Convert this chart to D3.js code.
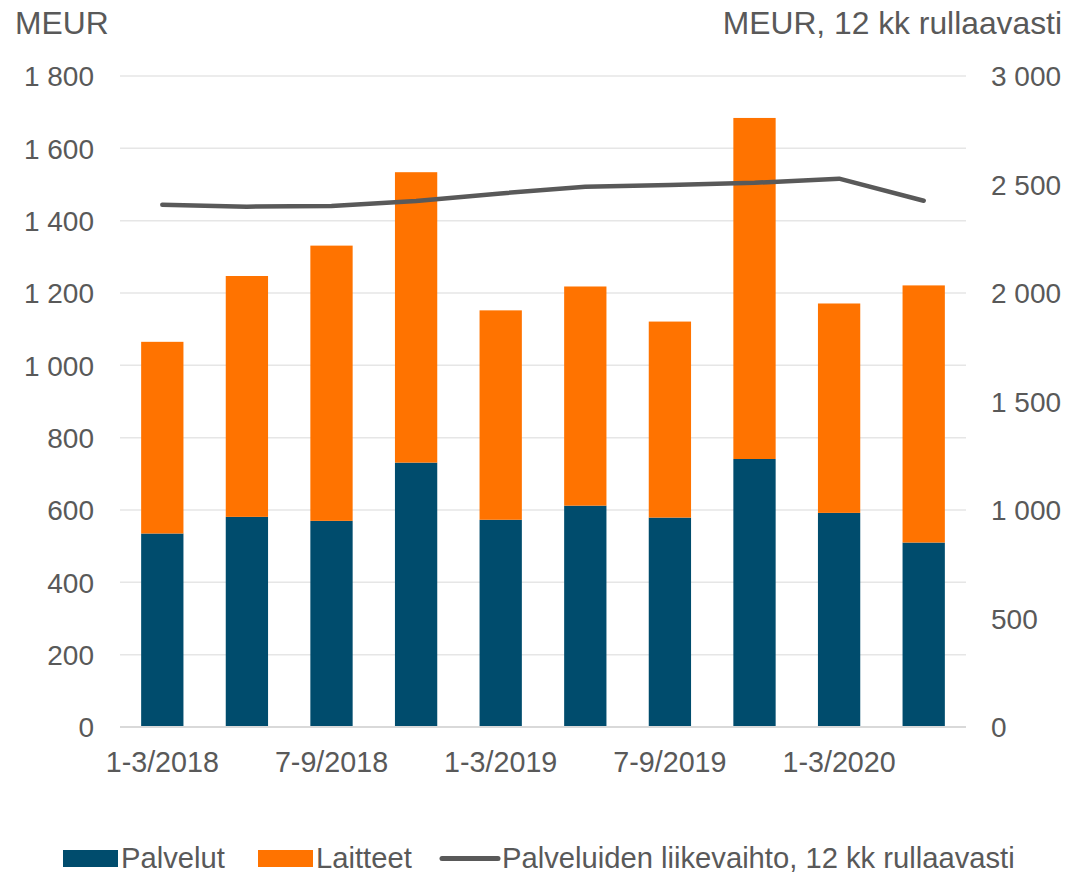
<!DOCTYPE html>
<html>
<head>
<meta charset="utf-8">
<script src="https://cdn.jsdelivr.net/npm/d3@7"></script>
<style>
  html, body { margin: 0; padding: 0; background: #fff; }
  svg text { font-family: "Liberation Sans", Arial, sans-serif; fill: #595959; }
</style>
</head>
<body>
<svg id="chart" width="1069" height="873"></svg>
<script>
const categories = ["1-3/2018","4-6/2018","7-9/2018","10-12/2018","1-3/2019","4-6/2019","7-9/2019","10-12/2019","1-3/2020","4-6/2020"];
const tickLabelCats = ["1-3/2018","7-9/2018","1-3/2019","7-9/2019","1-3/2020"];
const palvelut = [535, 581, 570, 731, 573, 612, 579, 741, 592, 510];
const laitteet = [530, 666, 761, 803, 579, 606, 542, 943, 579, 711];
const rolling  = [2407, 2398, 2401, 2424, 2459, 2490, 2498, 2508, 2527, 2425];
const leftTicks = [0, 200, 400, 600, 800, 1000, 1200, 1400, 1600, 1800];
const rightTicks = [0, 500, 1000, 1500, 2000, 2500, 3000];
const seriesNames = ["Palvelut", "Laitteet", "Palveluiden liikevaihto, 12 kk rullaavasti"];
const colors = { palvelut: "#004c6d", laitteet: "#ff7300", line: "#595959" };

const svg = d3.select("#chart");
const plot = { left: 120, right: 966, top: 76, bottom: 727 };

const x = d3.scaleBand().domain(categories).range([plot.left, plot.right]).paddingInner(0.5).paddingOuter(0.25);
const yL = d3.scaleLinear().domain([0, 1800]).range([plot.bottom, plot.top]);
const yR = d3.scaleLinear().domain([0, 3000]).range([plot.bottom, plot.top]);
const fmt = v => d3.format(",")(v).replace(/,/g, " ");

// gridlines
svg.append("g").selectAll("line").data(leftTicks.filter(d => d > 0)).join("line")
  .attr("x1", plot.left).attr("x2", plot.right)
  .attr("y1", d => yL(d)).attr("y2", d => yL(d))
  .attr("stroke", "#e6e6e6").attr("stroke-width", 1.5);

// left axis labels
const leftAxis = d3.axisLeft(yL).tickValues(leftTicks).tickFormat(fmt).tickSize(0).tickPadding(0);
const gl = svg.append("g").attr("transform", "translate(94,0)").call(leftAxis);
gl.select(".domain").remove();
gl.selectAll("text").attr("font-size", 28).attr("fill", "#595959").attr("dy", "0.35em")
  .style("font-family", "Liberation Sans, Arial, sans-serif");

// right axis labels
const rightAxis = d3.axisRight(yR).tickValues(rightTicks).tickFormat(fmt).tickSize(0).tickPadding(0);
const gr = svg.append("g").attr("transform", "translate(991,0)").call(rightAxis);
gr.select(".domain").remove();
gr.selectAll("text").attr("font-size", 28).attr("fill", "#595959").attr("dy", "0.35em")
  .style("font-family", "Liberation Sans, Arial, sans-serif");

// stacked bars
const rows = categories.map((c, i) => ({ cat: c, palvelut: palvelut[i], laitteet: laitteet[i] }));
const stack = d3.stack().keys(["palvelut", "laitteet"])(rows);
svg.append("g").selectAll("g").data(stack).join("g")
  .attr("fill", d => colors[d.key])
  .selectAll("rect").data(d => d).join("rect")
  .attr("x", d => x(d.data.cat))
  .attr("width", x.bandwidth())
  .attr("y", d => yL(d[1]))
  .attr("height", d => yL(d[0]) - yL(d[1]));

// baseline
svg.append("line").attr("x1", plot.left).attr("x2", plot.right)
  .attr("y1", plot.bottom).attr("y2", plot.bottom)
  .attr("stroke", "#d9d9d9").attr("stroke-width", 2);

// line
const line = d3.line().x((d, i) => x(categories[i]) + x.bandwidth() / 2).y(d => yR(d));
svg.append("path").datum(rolling).attr("d", line)
  .attr("fill", "none").attr("stroke", colors.line).attr("stroke-width", 4.5)
  .attr("stroke-linecap", "round").attr("stroke-linejoin", "round");

// x axis labels
const xAxis = d3.axisBottom(x).tickValues(tickLabelCats).tickSize(0).tickPadding(0);
const gx = svg.append("g").attr("transform", "translate(0,752)").call(xAxis);
gx.select(".domain").remove();
gx.selectAll("text").attr("font-size", 28.7).attr("fill", "#595959").attr("dy", "0.71em")
  .style("font-family", "Liberation Sans, Arial, sans-serif");

// titles
svg.append("text").attr("x", 15).attr("y", 34).attr("font-size", 31.8).text("MEUR");
svg.append("text").attr("x", 1062).attr("y", 34).attr("font-size", 31.8).attr("text-anchor", "end").text("MEUR, 12 kk rullaavasti");

// legend
const lg = svg.append("g");
lg.append("rect").attr("x", 63).attr("y", 850).attr("width", 55).attr("height", 17).attr("fill", colors.palvelut);
lg.append("text").attr("x", 121).attr("y", 868).attr("font-size", 29.2).text(seriesNames[0]);
lg.append("rect").attr("x", 258).attr("y", 850).attr("width", 55).attr("height", 17).attr("fill", colors.laitteet);
lg.append("text").attr("x", 316).attr("y", 868).attr("font-size", 29.2).text(seriesNames[1]);
lg.append("line").attr("x1", 442).attr("x2", 498).attr("y1", 858.5).attr("y2", 858.5)
  .attr("stroke", colors.line).attr("stroke-width", 5).attr("stroke-linecap", "round");
lg.append("text").attr("x", 502).attr("y", 868).attr("font-size", 29.2).text(seriesNames[2]);
</script>
</body>
</html>
